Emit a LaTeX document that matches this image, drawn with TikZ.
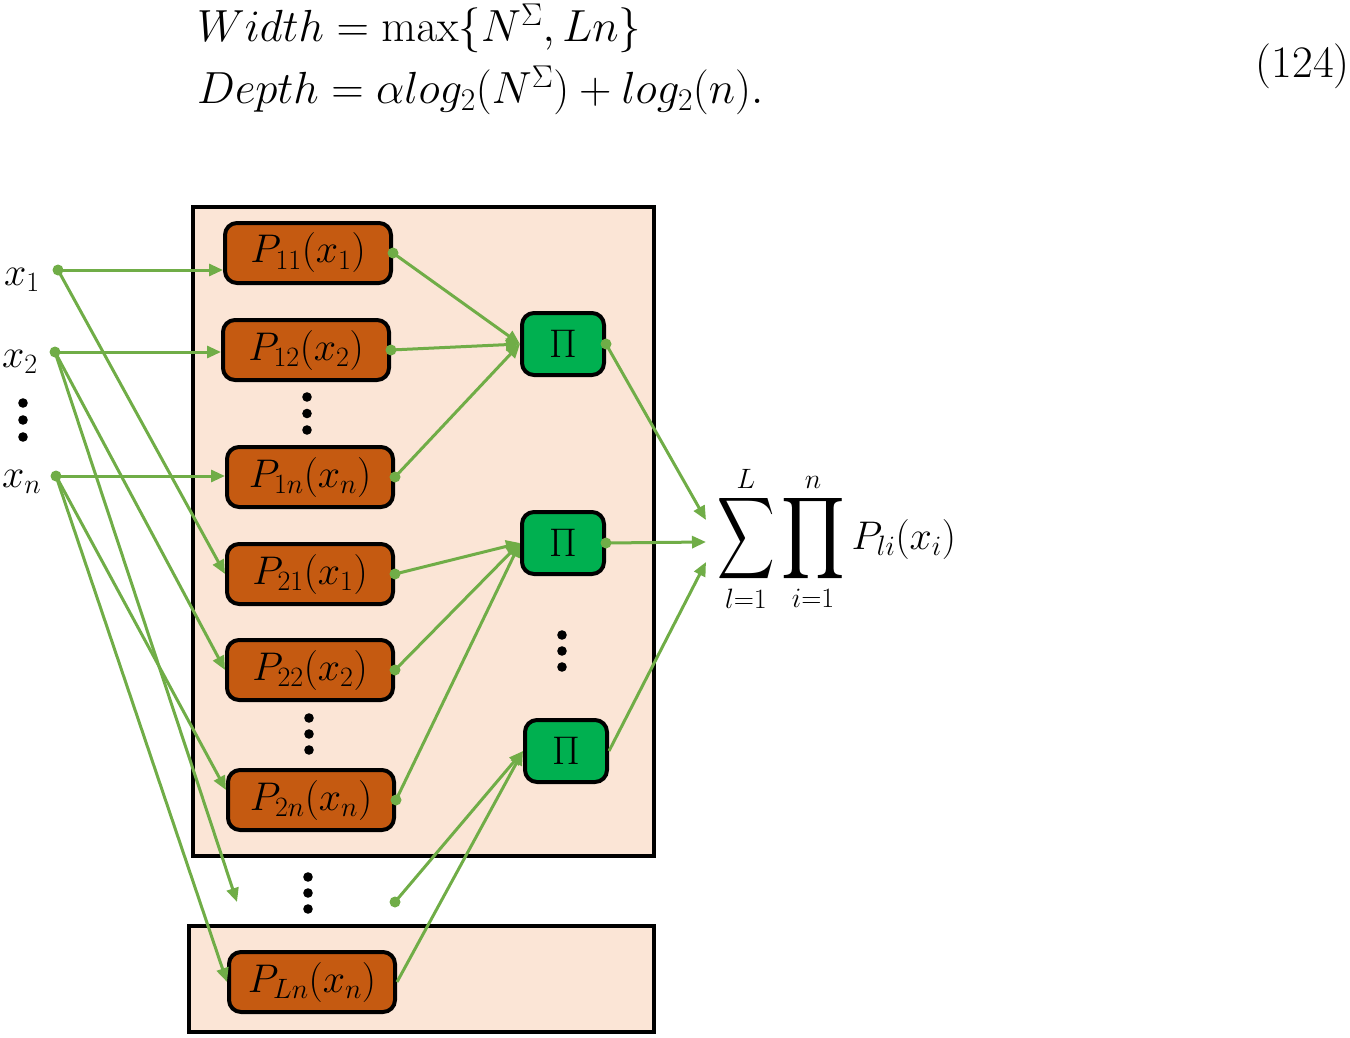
\documentclass[tikz,border=0pt]{standalone}
\usepackage{fix-cm}
\usepackage{exscale}
\usepackage{amsmath}
\usepackage{graphicx}
\usetikzlibrary{arrows.meta,calc}
\definecolor{peach}{HTML}{FBE5D6}
\definecolor{porange}{HTML}{C55A11}
\definecolor{pgreen}{HTML}{00B050}
\definecolor{lgreen}{HTML}{70AD47}
\tikzset{
  big/.style={font=\fontsize{40}{48}\selectfont},
  huge/.style={font=\fontsize{45}{54}\selectfont},
  pbox/.style={draw=black,line width=4pt,fill=porange,rounded corners=12pt,
    minimum width=166pt,minimum height=60pt,inner sep=0pt,big},
  pibox/.style={draw=black,line width=4pt,fill=pgreen,rounded corners=12pt,
    minimum width=82pt,minimum height=62pt,inner sep=0pt,big},
  conn/.style={draw=lgreen,line width=3pt,-{Triangle[length=14pt,width=12pt]}},
  frame/.style={draw=black,line width=4pt,fill=peach},
  blackdot/.style={fill=black},
}
\newcommand{\threedots}[3]{%
  \fill[blackdot] (#1,#2) circle (4.8pt);
  \fill[blackdot] (#1,{(#2+#3)/2}) circle (4.8pt);
  \fill[blackdot] (#1,#3) circle (4.8pt);}
\newcommand{\BigSum}{\mathop{\vcenter{\hbox{\scalebox{1.6}[2.3]{$\displaystyle\sum$}}}}\limits}
\newcommand{\BigProd}{\mathop{\vcenter{\hbox{\scalebox{2.0}[2.3]{$\displaystyle\prod$}}}}\limits}
\begin{document}
\begin{tikzpicture}[x=1pt,y=-1pt]
\useasboundingbox (0,0) rectangle (1350,1038);

% equations
\node[huge,anchor=base west,inner sep=0pt] (eqw) at (197,42) {$Width = \max\{N^{\Sigma}, Ln\}$};
\node[huge,anchor=base west,inner sep=0pt] (eqd) at (197,104) {$Depth = \alpha log_2(N^{\Sigma}) + log_2(n).$};
\node[huge,anchor=base east,inner sep=0pt] (eqn) at (1350,78) {(124)};

% frames
\draw[frame] (193,207) rectangle (654,856);
\draw[frame] (189,926) rectangle (654,1032);

% inputs
\node[big,anchor=base west,inner sep=0pt] (x1) at (4,285) {$x_1$};
\node[big,anchor=base west,inner sep=0pt] (x2) at (2,367) {$x_2$};
\node[big,anchor=base west,inner sep=0pt] (xn) at (2,487) {$x_n$};
\threedots{23}{403}{437}
\coordinate (d1) at (58,270);
\coordinate (d2) at (55,352);
\coordinate (dn) at (56,476);

% P boxes
\node[pbox] (P11) at (308,253) {$P_{11}(x_1)$};
\node[pbox] (P12) at (306,350) {$P_{12}(x_2)$};
\node[pbox] (P1n) at (310,477) {$P_{1n}(x_n)$};
\node[pbox] (P21) at (310,574) {$P_{21}(x_1)$};
\node[pbox] (P22) at (310,670) {$P_{22}(x_2)$};
\node[pbox] (P2n) at (311,800) {$P_{2n}(x_n)$};
\node[pbox] (PLn) at (312,982) {$P_{Ln}(x_n)$};
\threedots{307}{397}{430}
\threedots{309}{718}{750}
\threedots{308}{877}{909}

% Pi boxes
\node[pibox] (Pi1) at (563,344) {$\Pi$};
\node[pibox] (Pi2) at (563,543) {$\Pi$};
\node[pibox] (Pi3) at (566,751) {$\Pi$};
\threedots{562}{635}{667}

% placeholders
\coordinate (ph1) at (237,902);
\coordinate (ph2) at (395,902);

% sum
\node[big,anchor=base west,inner sep=0pt] (S) at (717,549) {$\displaystyle\BigSum_{l=1}^{L}\BigProd_{i=1}^{n}P_{li}(x_i)$};
\coordinate (s1) at (706,520);
\coordinate (s2) at (706,542);
\coordinate (s3) at (706,562);

% input connectors
\draw[conn] (d1) -- (d1 -| P11.west);
\draw[conn] (d1) -- (P21.west);
\draw[conn] (d2) -- (d2 -| P12.west);
\draw[conn] (d2) -- (P22.west);
\draw[conn] (d2) -- (ph1);
\draw[conn] (dn) -- (dn -| P1n.west);
\draw[conn] (dn) -- ($(P2n.west)+(0,-10)$);
\draw[conn] (dn) -- (PLn.west);
\foreach \d in {d1,d2,dn} \fill[lgreen] (\d) circle (5.5pt);

% P to Pi connectors
\foreach \s/\t in {P11/Pi1,P12/Pi1,P1n/Pi1,P21/Pi2,P22/Pi2,P2n/Pi2} {
  \draw[conn] (\s.east) -- (\t.west);
  \fill[lgreen] (\s.east) circle (5.5pt);
}
\draw[conn] (ph2) -- (Pi3.west);
\fill[lgreen] (ph2) circle (5.5pt);
\draw[conn] (PLn.east) -- (Pi3.west);

% Pi to sum
\draw[conn] (Pi1.east) -- (s1);
\fill[lgreen] (Pi1.east) circle (5.5pt);
\draw[conn] (Pi2.east) -- (s2);
\fill[lgreen] (Pi2.east) circle (5.5pt);
\draw[conn] (Pi3.east) -- (s3);
\end{tikzpicture}
\end{document}
